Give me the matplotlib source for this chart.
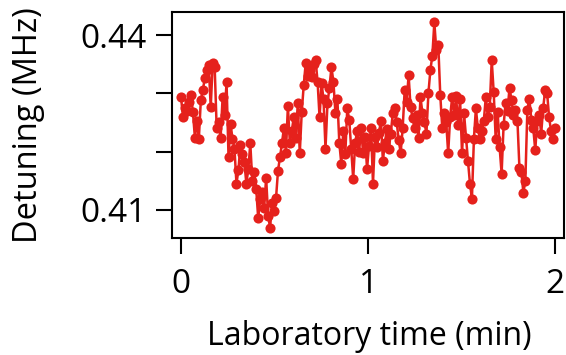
import numpy as np
import matplotlib.pyplot as plt

plt.rcParams['font.family'] = ['Open Sans', 'DejaVu Sans']

# detuning readings, evenly sampled over two minutes
detuning = [
    0.4293, 0.4259, 0.4275, 0.4270, 0.4285, 0.4297, 0.4268, 0.4224, 0.4253, 0.4222,
    0.4288, 0.4305, 0.4326, 0.4340, 0.4348, 0.4276, 0.4352, 0.4345, 0.4241, 0.4250,
    0.4224, 0.4293, 0.4262, 0.4319, 0.4190, 0.4248, 0.4222, 0.4205, 0.4145, 0.4168,
    0.4212, 0.4195, 0.4182, 0.4145, 0.4170, 0.4214, 0.4150, 0.4165, 0.4135, 0.4085,
    0.4118, 0.4130, 0.4103, 0.4155, 0.4090, 0.4069, 0.4112, 0.4098, 0.4120, 0.4167,
    0.4190, 0.4214, 0.4241, 0.4198, 0.4278, 0.4214, 0.4236, 0.4260, 0.4224, 0.4283,
    0.4197, 0.4268, 0.4314, 0.4352, 0.4330, 0.4340, 0.4328, 0.4350, 0.4357, 0.4320,
    0.4259, 0.4318, 0.4290, 0.4205, 0.4283, 0.4310, 0.4345, 0.4320, 0.4267, 0.4290,
    0.4214, 0.4179, 0.4236, 0.4195, 0.4274, 0.4255, 0.4205, 0.4153, 0.4215, 0.4236,
    0.4200, 0.4241, 0.4197, 0.4225, 0.4170, 0.4210, 0.4241, 0.4145, 0.4225, 0.4207,
    0.4232, 0.4253, 0.4184, 0.4215, 0.4238, 0.4205, 0.4231, 0.4266, 0.4274, 0.4250,
    0.4219, 0.4198, 0.4240, 0.4305, 0.4285, 0.4331, 0.4276, 0.4258, 0.4241, 0.4262,
    0.4224, 0.4293, 0.4266, 0.4250, 0.4231, 0.4300, 0.4340, 0.4365, 0.4422, 0.4374,
    0.4383, 0.4297, 0.4241, 0.4266, 0.4250, 0.4197, 0.4260, 0.4293, 0.4262, 0.4295,
    0.4245, 0.4290, 0.4197, 0.4266, 0.4224, 0.4184, 0.4145, 0.4119, 0.4222, 0.4274,
    0.4240, 0.4222, 0.4235, 0.4253, 0.4293, 0.4260, 0.4276, 0.4357, 0.4302, 0.4222,
    0.4268, 0.4207, 0.4162, 0.4245, 0.4283, 0.4270, 0.4310, 0.4288, 0.4262, 0.4271,
    0.4253, 0.4172, 0.4165, 0.4129, 0.4150, 0.4271, 0.4291, 0.4255, 0.4240, 0.4202,
    0.4253, 0.4262, 0.4231, 0.4275, 0.4305, 0.4300, 0.4259, 0.4235, 0.4222, 0.4241,
]
time_min = np.linspace(0, 2, len(detuning))

x_ticks = [0, 1, 2]
y_ticks = [0.41, 0.42, 0.43, 0.44]
y_tick_labels = ['0.41', '', '', '0.44']

fig = plt.figure(figsize=(5.66, 3.55), dpi=100)
ax = fig.add_axes([0.304, 0.33, 0.6925, 0.636])

ax.plot(time_min, detuning, '-o', color='#e5211c', markersize=7.3,
        linewidth=1.8, markeredgewidth=0)

ax.set_xlim(-0.048, 2.048)
ax.set_ylim(0.40517, 0.44397)
ax.set_xticks(x_ticks)
ax.set_xticklabels([str(v) for v in x_ticks])
ax.set_yticks(y_ticks)
ax.set_yticklabels(y_tick_labels)

for s in ax.spines.values():
    s.set_linewidth(1.5)
ax.tick_params(direction='out', length=11.5, width=1.5, labelsize=24)
ax.tick_params(axis='y', pad=7)
ax.tick_params(axis='x', pad=10)

ax.set_xlabel('Laboratory time (min)', fontsize=23)
ax.set_ylabel('Detuning (MHz)', fontsize=23.5)
ax.xaxis.set_label_coords(0.502, -0.365)
ax.yaxis.set_label_coords(-0.325, 0.5)

fig.savefig('out.png', dpi=100)
